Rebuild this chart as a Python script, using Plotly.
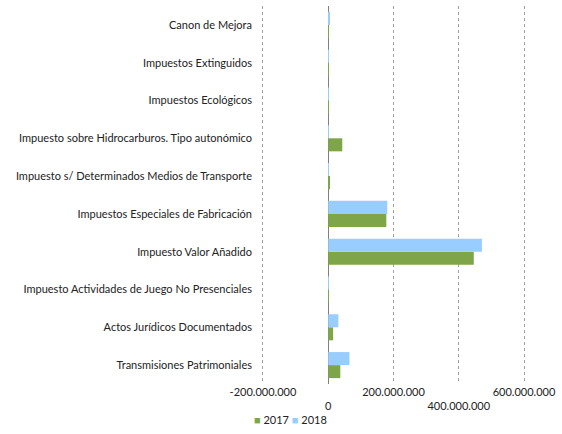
import plotly.graph_objects as go

categories = [
    "Transmisiones Patrimoniales",
    "Actos Jurídicos Documentados",
    "Impuesto Actividades de Juego No Presenciales",
    "Impuesto Valor Añadido",
    "Impuestos Especiales de Fabricación",
    "Impuesto s/ Determinados Medios de Transporte",
    "Impuesto sobre Hidrocarburos. Tipo autonómico",
    "Impuestos Ecológicos",
    "Impuestos Extinguidos",
    "Canon de Mejora",
]
values_2017 = [37e6, 15e6, 2e6, 446e6, 178e6, 5e6, 43e6, 2e6, 0.3e6, 2e6]
values_2018 = [65e6, 31e6, 0.5e6, 471e6, 181e6, 0.5e6, 0.3e6, 2e6, 0.2e6, 3e6]

tick_vals = [-200e6, 0, 200e6, 400e6, 600e6]
tick_text = ["-200.000.000", "<br>0", "200.000.000", "<br>400.000.000", "600.000.000"]

color_2017 = "#7EA648"
color_2018 = "#99CCFF"
font_family = "Lato, Open Sans, sans-serif"

fig = go.Figure()
fig.add_trace(go.Bar(y=categories, x=values_2017, name="2017", orientation="h",
                     marker=dict(color=color_2017, line=dict(width=0)), showlegend=False))
fig.add_trace(go.Bar(y=categories, x=values_2018, name="2018", orientation="h",
                     marker=dict(color=color_2018, line=dict(width=0)), showlegend=False))

fig.add_annotation(
    x=0.111, y=-0.095, xref="paper", yref="paper", xanchor="center", yanchor="middle",
    showarrow=False, font=dict(size=11, color="#222222", family=font_family),
    text=(f"<span style='color:{color_2017}'>■</span> 2017 "
          f"<span style='color:{color_2018}'>■</span> 2018"),
)

fig.update_layout(
    width=562, height=434,
    margin=dict(l=261, r=36, t=6, b=50),
    barmode="group", bargap=0.31, bargroupgap=0,
    plot_bgcolor="white", paper_bgcolor="white",
    font=dict(family=font_family, size=11, color="#222222"),
    showlegend=False,
    xaxis=dict(range=[-206e6, 606e6], tickvals=tick_vals, ticktext=tick_text,
               tickangle=0, automargin=False,
               showgrid=True, gridcolor="#A0A0A0", griddash="dot", gridwidth=1,
               zeroline=True, zerolinecolor="#808080", zerolinewidth=1,
               tickfont=dict(size=11, color="#222222"), showline=False, ticks=""),
    yaxis=dict(showgrid=False, ticks="", tickfont=dict(size=11, color="#222222"),
               ticklabelstandoff=8, showline=False, automargin=False),
)

fig.write_html("out.html", config={"displayModeBar": False},
               post_script="document.body.style.margin='0';")
